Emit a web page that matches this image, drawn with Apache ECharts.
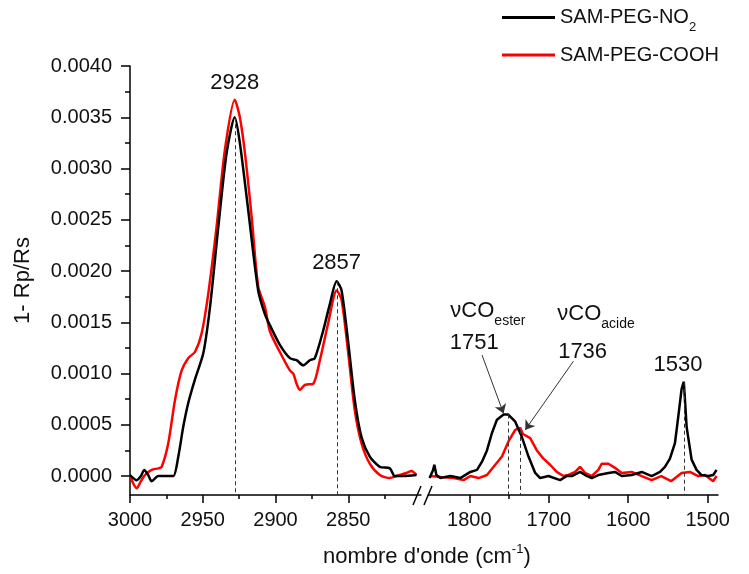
<!DOCTYPE html>
<html>
<head>
<meta charset="utf-8">
<script src="https://cdn.jsdelivr.net/npm/echarts@6/dist/echarts.min.js"></script>
<style>
  html, body { margin: 0; padding: 0; background: #fff; }
  #chart { width: 749px; height: 574px; }
</style>
</head>
<body>
<div id="chart"></div>
<script>
// SAM-PEG-NO2, CH stretching region
const noHighWn = [3000, 2995.4, 2992.5, 2990.2, 2987.5, 2985.1, 2980.5, 2975, 2970.2, 2966.8,
  2963.4, 2960, 2955.4, 2949.6, 2945, 2939.3, 2933.6, 2928, 2924.5, 2918.8,
  2911.9, 2907.3, 2903.8, 2897, 2890.1, 2885.5, 2881, 2876.4, 2873, 2867.2,
  2862.6, 2858, 2854.6, 2850, 2845.5, 2840.9, 2835.2, 2828.3, 2821.4, 2818,
  2812.3, 2803.1]
const noHighVal = [0.00001, -0.00004, 0, 0.00006, 0.00001, -0.00005, 0, 0, 0, 0.00019,
  0.00048, 0.00071, 0.00094, 0.0012, 0.00165, 0.00243, 0.00315, 0.0035, 0.00325, 0.0026,
  0.00181, 0.00158, 0.00147, 0.00128, 0.00115, 0.00113, 0.00108, 0.00113, 0.00115, 0.00142,
  0.00168, 0.0019, 0.00181, 0.0013, 0.00074, 0.00038, 0.00019, 0.00009, 0.000075, 0,
  0, 0.00001]

// SAM-PEG-COOH, CH stretching region
const coohHighWn = [3000, 2997.5, 2995.4, 2992.5, 2989.7, 2985.1, 2980.5, 2978.2, 2973.7, 2969.1,
  2964.5, 2960, 2955.4, 2950.8, 2946.2, 2940.5, 2934.8, 2928, 2924.5, 2921,
  2916.4, 2911.9, 2907.3, 2903.8, 2897, 2890.1, 2887.8, 2885.5, 2883.2, 2879.8,
  2874.1, 2869.5, 2863.8, 2858, 2854.6, 2850, 2845.5, 2840.9, 2835.2, 2828.3,
  2821.4, 2816.8, 2810, 2806.5, 2803.1]
const coohHighVal = [0, -0.00008, -0.00012, -0.00005, 0.00001, 0.00006, 0.000075, 0.00009, 0.00032, 0.00074,
  0.00103, 0.00115, 0.00121, 0.00139, 0.00178, 0.00243, 0.00318, 0.00367, 0.0035, 0.00315,
  0.00253, 0.00185, 0.00165, 0.00141, 0.00121, 0.00103, 0.001, 0.0009, 0.00084, 0.00089,
  0.0009, 0.00113, 0.00149, 0.00181, 0.00172, 0.0012, 0.00064, 0.00032, 0.00012, 0.00001,
  -0.00002, 0, 0.00003, 0.00005, 0.00001]

// SAM-PEG-NO2, carbonyl / nitro region
const noLowWn = [1850, 1845.6, 1844, 1841.5, 1836.4, 1823.9, 1811.3, 1798.7, 1790.3, 1784,
  1777.8, 1771.5, 1765.2, 1756.9, 1751, 1748.5, 1742.2, 1733.8, 1725.5, 1717.1,
  1710.8, 1700.4, 1685.7, 1677.3, 1671, 1660.6, 1654.3, 1645.9, 1637.6, 1625,
  1616.6, 1608.2, 1595.6, 1583, 1570.5, 1560, 1553.8, 1547.5, 1541.2, 1537,
  1532.8, 1530, 1526.5, 1520.2, 1514, 1507.7, 1499.3, 1493, 1488.8]
const noLowVal = [-0.00002, 0.00006, 0.00011, 0.00001, -0.00002, 0, -0.00002, 0.00004, 0.00006, 0.00014,
  0.00025, 0.00042, 0.00055, 0.0006, 0.0006, 0.00059, 0.00053, 0.00038, 0.00019, 0.00003,
  -0.00002, 0, -0.00004, 0, 0, 0.00004, 0.00001, -0.00002, 0.00001, 0.00003,
  0.00004, 0, 0.00001, 0.00004, 0, 0.00004, 0.00009, 0.00017, 0.00032, 0.00058,
  0.00085, 0.00092, 0.00048, 0.00016, 0.00006, 0.00001, 0, 0.00001, 0.00006]

// SAM-PEG-COOH, carbonyl region
const coohLowWn = [1849, 1836, 1819.7, 1807.2, 1798.7, 1788.2, 1777.8, 1769.4, 1758.9, 1750.6,
  1742.2, 1736, 1732.6, 1723.4, 1715, 1706.7, 1698.3, 1690, 1681.5, 1675.3,
  1666.8, 1660.6, 1654.3, 1645.9, 1637.6, 1633.4, 1625, 1616.6, 1608.2, 1595.6,
  1583, 1570.5, 1558.5, 1546, 1532.8, 1522.3, 1512, 1503.5, 1493, 1488.8]
const coohLowVal = [0, -0.00001, -0.00002, -0.00004, 0, -0.00002, 0.00001, 0.00009, 0.00019, 0.00034,
  0.00045, 0.00047, 0.00041, 0.00037, 0.00025, 0.00017, 0.00011, 0.00004, 0, 0.00001,
  0.00004, 0.00009, 0.00003, 0, 0.00006, 0.00012, 0.00012, 0.00008, 0.00003, 0.00004,
  0, -0.00004, 0, -0.00005, 0.00003, 0.00004, 0, 0.00001, -0.00005, 0]

// ticks
const yLabels = [0, 0.0005, 0.001, 0.0015, 0.002, 0.0025, 0.003, 0.0035, 0.004]
const yMinor = [0.00025, 0.00075, 0.00125, 0.00175, 0.00225, 0.00275, 0.00325, 0.00375]
const xHighLabels = [3000, 2950, 2900, 2850]
const xHighMinor = [2975, 2925, 2875, 2825]
const xLowLabels = [1800, 1700, 1600, 1500]
const xLowMinor = [1750, 1650, 1550]

const pair = (wn, val) => wn.map((w, i) => [w, val[i]])

const yMin = -0.000185
const yMax = 0.004
const font = 'Liberation Sans, Arial, sans-serif'
const axisColor = '#000'

const mainX = (gridIndex, min, max, labels) => ({
  type: 'value',
  gridIndex,
  position: 'bottom',
  inverse: true,
  min,
  max,
  axisLine: { show: true, onZero: false, lineStyle: { color: axisColor, width: 1.5 } },
  axisTick: { show: true, length: 8, customValues: labels, lineStyle: { color: axisColor, width: 1.5 } },
  axisLabel: {
    customValues: labels,
    formatter: (v) => String(v),
    fontSize: 20,
    fontFamily: font,
    color: '#111',
    margin: 15
  },
  splitLine: { show: false }
})

const minorX = (gridIndex, min, max, ticks) => ({
  type: 'value',
  gridIndex,
  position: 'bottom',
  inverse: true,
  min,
  max,
  axisLine: { show: false, onZero: false },
  axisTick: { show: true, length: 4, customValues: ticks, lineStyle: { color: axisColor, width: 1.5 } },
  axisLabel: { show: false },
  splitLine: { show: false }
})

const chart = echarts.init(document.getElementById('chart'))

const dashed = { type: [4, 3], color: '#333', width: 1 }

chart.setOption({
  animation: false,
  backgroundColor: '#fff',
  grid: [
    { left: 130, right: 328, top: 66, bottom: 79 },
    { left: 428, right: 31, top: 66, bottom: 79 }
  ],
  legend: {
    orient: 'vertical',
    left: 497,
    top: 0,
    padding: [1, 5, 5, 5],
    itemWidth: 53,
    itemHeight: 3,
    itemGap: 10,
    icon: 'rect',
    data: ['SAM-PEG-NO2', 'SAM-PEG-COOH'],
    formatter: (name) => (name === 'SAM-PEG-NO2' ? 'SAM-PEG-NO{s|2}' : name),
    textStyle: {
      fontSize: 20,
      lineHeight: 22,
      fontFamily: font,
      color: '#111',
      rich: {
        s: { fontSize: 13, lineHeight: 13, padding: [20, 0, 0, 0], fontFamily: font, color: '#111' }
      }
    }
  },
  xAxis: [
    mainX(0, 2800, 3000, xHighLabels),
    mainX(1, 1487, 1852, xLowLabels),
    minorX(0, 2800, 3000, xHighMinor),
    minorX(1, 1487, 1852, xLowMinor)
  ],
  yAxis: [
    {
      type: 'value',
      gridIndex: 0,
      position: 'left',
      min: yMin,
      max: yMax,
      name: '1- Rp/Rs',
      nameLocation: 'middle',
      nameGap: 96,
      nameTextStyle: { fontSize: 22, fontFamily: font, color: '#111' },
      axisLine: { show: true, onZero: false, lineStyle: { color: axisColor, width: 1.5 } },
      axisTick: { show: true, length: 9, customValues: yLabels, lineStyle: { color: axisColor, width: 1.5 } },
      axisLabel: {
        customValues: yLabels,
        formatter: (v) => v.toFixed(4),
        fontSize: 20,
        fontFamily: font,
        color: '#111',
        margin: 18
      },
      splitLine: { show: false }
    },
    {
      type: 'value',
      gridIndex: 1,
      min: yMin,
      max: yMax,
      show: false
    },
    {
      type: 'value',
      gridIndex: 0,
      position: 'left',
      min: yMin,
      max: yMax,
      axisLine: { show: false, onZero: false },
      axisTick: { show: true, length: 5, customValues: yMinor, lineStyle: { color: axisColor, width: 1.5 } },
      axisLabel: { show: false },
      splitLine: { show: false }
    }
  ],
  series: [
    {
      name: 'SAM-PEG-COOH',
      type: 'line',
      xAxisIndex: 0,
      yAxisIndex: 0,
      data: pair(coohHighWn, coohHighVal),
      color: '#ff0000',
      showSymbol: false,
      smooth: 0.25,
      lineStyle: { width: 2.5 }
    },
    {
      name: 'SAM-PEG-COOH',
      type: 'line',
      xAxisIndex: 1,
      yAxisIndex: 1,
      data: pair(coohLowWn, coohLowVal),
      color: '#ff0000',
      showSymbol: false,
      lineStyle: { width: 2.5 },
      markLine: {
        silent: true,
        symbol: ['none', 'arrow'],
        symbolSize: 9,
        label: { show: false },
        lineStyle: { type: 'solid', color: '#333', width: 1 },
        data: [
          [{ coord: [1784, 0.00118] }, { coord: [1756.9, 0.00061] }],
          [{ coord: [1669, 0.00112] }, { coord: [1729.6, 0.00045] }]
        ]
      }
    },
    {
      name: 'SAM-PEG-NO2',
      type: 'line',
      xAxisIndex: 0,
      yAxisIndex: 0,
      data: pair(noHighWn, noHighVal),
      color: '#000',
      showSymbol: false,
      smooth: 0.25,
      lineStyle: { width: 2.5 },
      markLine: {
        silent: true,
        symbol: 'none',
        label: { show: false },
        lineStyle: dashed,
        data: [
          [{ coord: [2928, 0.0035] }, { coord: [2928, yMin] }],
          [{ coord: [2857.5, 0.0019] }, { coord: [2857.5, yMin] }]
        ]
      },
      markPoint: {
        silent: true,
        symbolSize: 0,
        label: { show: true, position: 'inside', formatter: '{b}', fontSize: 22, fontFamily: font, color: '#111' },
        data: [
          { name: '2928', coord: [2928, 0.00383] },
          { name: '2857', coord: [2858, 0.002075] }
        ]
      }
    },
    {
      name: 'SAM-PEG-NO2',
      type: 'line',
      xAxisIndex: 1,
      yAxisIndex: 1,
      data: pair(noLowWn, noLowVal),
      color: '#000',
      showSymbol: false,
      lineStyle: { width: 2.5 },
      markLine: {
        silent: true,
        symbol: 'none',
        label: { show: false },
        lineStyle: dashed,
        data: [
          [{ coord: [1751, 0.0006] }, { coord: [1751, yMin] }],
          [{ coord: [1736, 0.00045] }, { coord: [1736, yMin] }],
          [{ coord: [1530, 0.00092] }, { coord: [1530, yMin] }]
        ]
      },
      markPoint: {
        silent: true,
        symbolSize: 0,
        label: {
          show: true,
          position: 'inside',
          formatter: '{b}',
          fontSize: 22,
          lineHeight: 24,
          fontFamily: font,
          color: '#111',
          rich: {
            s: { fontSize: 14, lineHeight: 14, padding: [20, 0, 0, 0], fontFamily: font, color: '#111' }
          }
        },
        data: [
          { name: '1751', coord: [1793.7, 0.0013] },
          { name: '1736', coord: [1657.4, 0.001215] },
          { name: '1530', coord: [1537.4, 0.00108] },
          { name: 'ester', coord: [1776.6, 0.00161], label: { formatter: 'νCO{s|ester}' } },
          { name: 'acide', coord: [1640.5, 0.00158], label: { formatter: 'νCO{s|acide}' } }
        ]
      }
    }
  ],
  graphic: [
    // axis break marks
    { type: 'line', shape: { x1: 413, y1: 505, x2: 421, y2: 486 }, style: { stroke: '#000', lineWidth: 1.5 } },
    { type: 'line', shape: { x1: 424, y1: 505, x2: 432, y2: 486 }, style: { stroke: '#000', lineWidth: 1.5 } },
    {
      type: 'text',
      left: 323,
      top: 543,
      style: {
        text: "nombre d'onde (cm{sup|-1})",
        font: '22px ' + font,
        fill: '#111',
        rich: {
          sup: { fontSize: 13, padding: [0, 0, 14, 0], fontFamily: font, fill: '#111' }
        }
      }
    }
  ]
})
</script>
</body>
</html>
